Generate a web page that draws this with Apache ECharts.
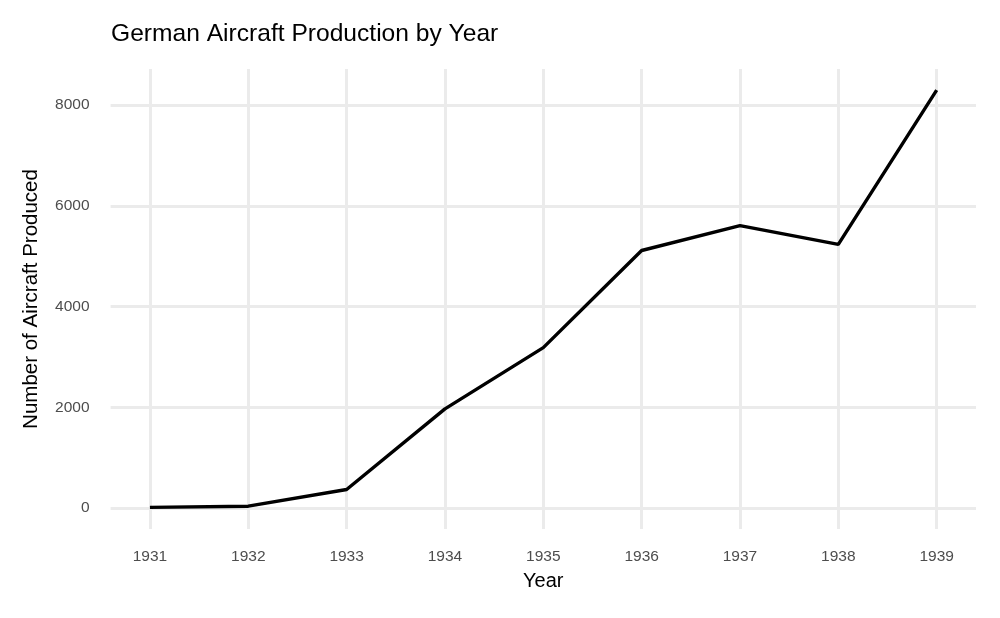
<!DOCTYPE html>
<html>
<head>
<meta charset="utf-8">
<script src="https://cdn.jsdelivr.net/npm/echarts@6/dist/echarts.min.js"></script>
<style>html,body{margin:0;padding:0;background:#fff}#c{width:1000px;height:618px}</style>
</head>
<body>
<div id="c"></div>
<script>
const years = [1931, 1932, 1933, 1934, 1935, 1936, 1937, 1938, 1939];
const production = [13, 36, 368, 1968, 3183, 5112, 5606, 5235, 8295];
const yTicks = [0, 2000, 4000, 6000, 8000];

const chart = echarts.init(document.getElementById('c'), null, {renderer: 'canvas'});
const font = 'Liberation Sans, Arial, Helvetica, sans-serif';
chart.setOption({
  animation: false,
  backgroundColor: '#ffffff',
  title: {
    text: 'German Aircraft Production by Year',
    left: 106, top: 17,
    textStyle: {fontFamily: font, fontSize: 24.6, fontWeight: 'normal', color: '#000'}
  },
  grid: {left: 110.6, right: 24, top: 69, bottom: 89, containLabel: false},
  xAxis: {
    type: 'value',
    min: 1930.6, max: 1939.4,
    name: 'Year', nameLocation: 'middle', nameGap: 42,
    nameTextStyle: {fontFamily: font, fontSize: 20, color: '#000'},
    axisLine: {show: false},
    axisTick: {show: false, customValues: years},
    axisLabel: {customValues: years, color: '#4d4d4d', fontSize: 15.5, fontFamily: font, margin: 20,
      formatter: v => String(Math.round(v))},
    splitLine: {show: true, lineStyle: {color: '#ebebeb', width: 3}}
  },
  yAxis: {
    type: 'value',
    min: -417, max: 8715,
    name: 'Number of Aircraft Produced', nameLocation: 'middle', nameGap: 69,
    nameTextStyle: {fontFamily: font, fontSize: 20.5, color: '#000'},
    axisLine: {show: false},
    axisTick: {show: false, customValues: yTicks},
    axisLabel: {customValues: yTicks, color: '#4d4d4d', fontSize: 15.5, fontFamily: font, margin: 21,
      formatter: v => String(Math.round(v))},
    splitLine: {show: true, lineStyle: {color: '#ebebeb', width: 3}}
  },
  series: [{
    type: 'line',
    data: years.map((y, i) => [y, production[i]]),
    showSymbol: false,
    lineStyle: {color: '#000', width: 3.4},
    z: 5
  }]
});
</script>
</body>
</html>
